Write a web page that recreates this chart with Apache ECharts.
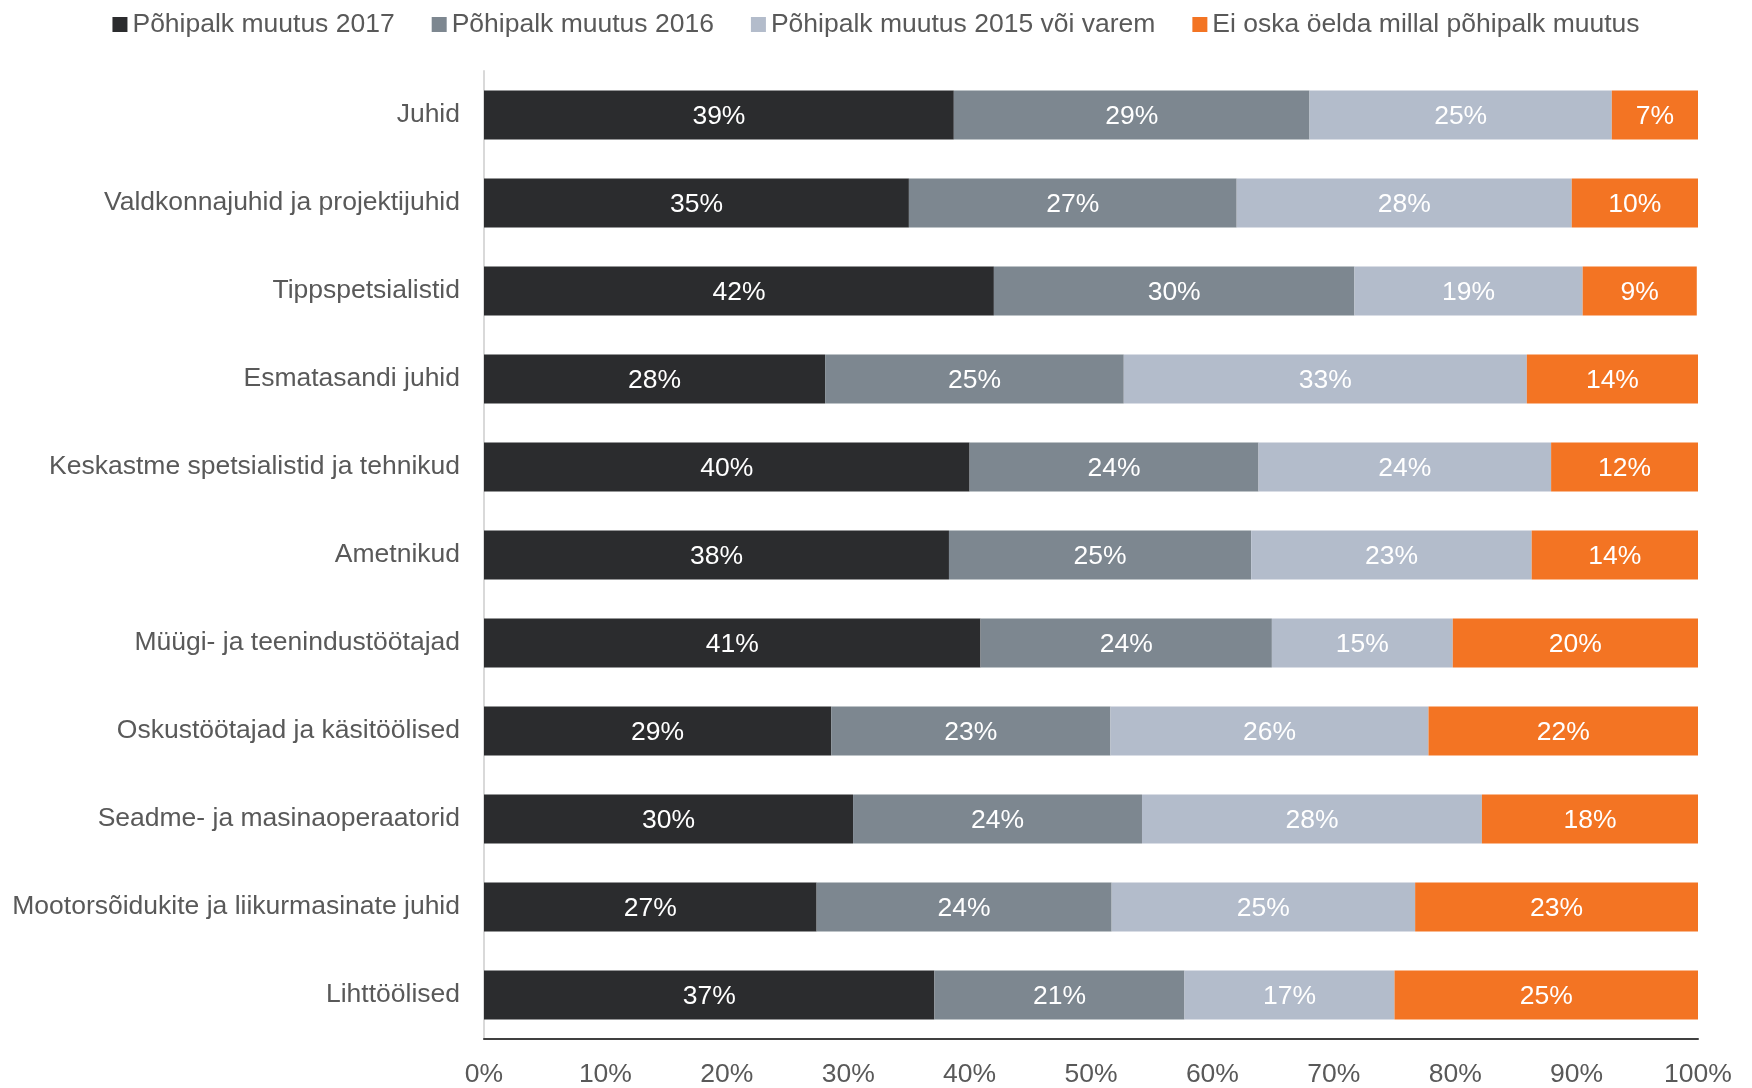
<!DOCTYPE html>
<html>
<head>
<meta charset="utf-8">
<script src="https://cdn.jsdelivr.net/npm/echarts@6/dist/echarts.min.js"></script>
<style>
html,body{margin:0;padding:0;background:#fff;}
#c{width:1752px;height:1088px;}
</style>
</head>
<body>
<div id="c"></div>
<script>
const categories = [
  "Juhid",
  "Valdkonnajuhid ja projektijuhid",
  "Tippspetsialistid",
  "Esmatasandi juhid",
  "Keskastme spetsialistid ja tehnikud",
  "Ametnikud",
  "Müügi- ja teenindustöötajad",
  "Oskustöötajad ja käsitöölised",
  "Seadme- ja masinaoperaatorid",
  "Mootorsõidukite ja liikurmasinate juhid",
  "Lihttöölised"
];
const seriesNames = [
  "Põhipalk muutus 2017",
  "Põhipalk muutus 2016",
  "Põhipalk muutus 2015 või varem",
  "Ei oska öelda millal põhipalk muutus"
];
const v2017 = [38.7, 35.0, 42.0, 28.1, 40.0, 38.3, 40.9, 28.6, 30.4, 27.4, 37.1];
const v2016 = [29.3, 27.0, 29.7, 24.6, 23.8, 24.9, 24.0, 23.0, 23.8, 24.3, 20.6];
const v2015 = [24.9, 27.6, 18.8, 33.2, 24.1, 23.1, 14.9, 26.2, 28.0, 25.0, 17.3];
const vUnknown = [7.1, 10.4, 9.4, 14.1, 12.1, 13.7, 20.2, 22.2, 17.8, 23.3, 25.0];
const xTicks = [0, 10, 20, 30, 40, 50, 60, 70, 80, 90, 100];

const colors = ["#2b2c2e", "#7d8790", "#b3bccb", "#f37423"];
const allValues = [v2017, v2016, v2015, vUnknown];
const FONT = "'Liberation Sans', Arial, sans-serif";
const FS = 26.5;

const chart = echarts.init(document.getElementById('c'));
chart.setOption({
  animation: false,
  textStyle: { fontFamily: FONT },
  legend: {
    top: 6,
    left: 'center',
    itemWidth: 15,
    itemHeight: 15,
    itemGap: 37,
    icon: 'rect',
    textStyle: { fontSize: FS, color: '#595959', fontFamily: FONT },
    data: seriesNames
  },
  grid: { left: 484, right: 54, top: 71, bottom: 44, containLabel: false },
  xAxis: {
    type: 'value',
    min: 0,
    max: 100,
    interval: 10,
    axisLine: { show: true, lineStyle: { color: '#404040', width: 2 } },
    axisTick: { show: false },
    splitLine: { show: false },
    axisLabel: {
      fontSize: FS, color: '#595959', fontFamily: FONT, margin: 22,
      formatter: v => xTicks.includes(v) ? v + '%' : ''
    }
  },
  yAxis: {
    type: 'category',
    inverse: true,
    data: categories,
    axisLine: { show: true, lineStyle: { color: '#d9d9d9', width: 2 } },
    axisTick: { show: false },
    axisLabel: { fontSize: FS, color: '#595959', fontFamily: FONT, margin: 24, padding: [4, 0, 0, 0] }
  },
  series: seriesNames.map((name, i) => ({
    name,
    type: 'bar',
    stack: 'total',
    barWidth: 49,
    data: allValues[i],
    itemStyle: { color: colors[i] },
    label: {
      show: true,
      position: 'inside',
      offset: [0, 2],
      color: '#ffffff',
      fontSize: FS,
      fontFamily: FONT,
      formatter: p => Math.round(p.value) + '%'
    }
  }))
});
</script>
</body>
</html>
